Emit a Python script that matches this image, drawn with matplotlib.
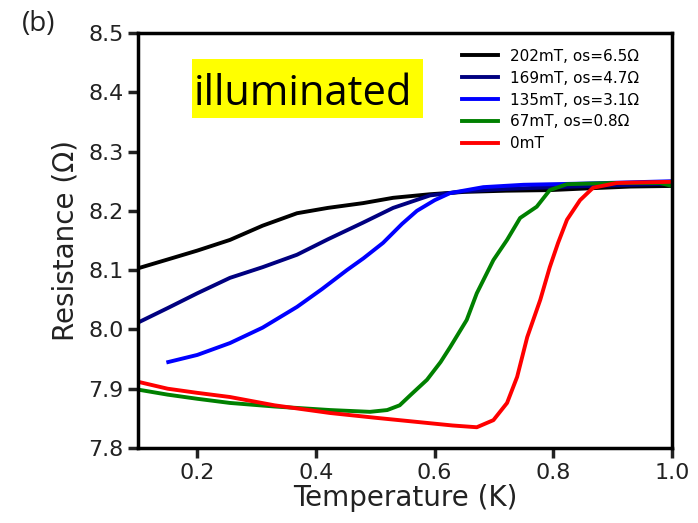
import numpy as np
import matplotlib.pyplot as plt
from matplotlib.patches import Rectangle

# data (T in K, R in Ohm)
t_202 = [0.103, 0.15, 0.2, 0.255, 0.31, 0.368, 0.42, 0.479, 0.53, 0.592, 0.65, 0.72, 0.794, 0.86, 0.93, 1.0]
r_202 = [8.104, 8.118, 8.133, 8.151, 8.175, 8.196, 8.205, 8.213, 8.222, 8.228, 8.232, 8.234, 8.235, 8.238, 8.241, 8.242]

t_169 = [0.103, 0.15, 0.2, 0.255, 0.31, 0.368, 0.42, 0.479, 0.53, 0.592, 0.65, 0.72, 0.8, 0.9, 1.0]
r_169 = [8.013, 8.036, 8.061, 8.087, 8.105, 8.126, 8.152, 8.18, 8.205, 8.226, 8.233, 8.237, 8.24, 8.243, 8.246]

t_135 = [0.151, 0.2, 0.255, 0.31, 0.368, 0.41, 0.452, 0.48, 0.513, 0.545, 0.57, 0.6, 0.626, 0.682, 0.75, 0.85, 1.0]
r_135 = [7.945, 7.957, 7.977, 8.003, 8.038, 8.068, 8.1, 8.12, 8.146, 8.178, 8.2, 8.218, 8.23, 8.24, 8.244, 8.246, 8.25]

t_67 = [0.103, 0.15, 0.2, 0.255, 0.33, 0.424, 0.491, 0.52, 0.541, 0.56, 0.587, 0.61, 0.626, 0.654, 0.671, 0.699, 0.722, 0.744, 0.772, 0.794, 0.823, 0.9, 0.98, 1.0]
r_67 = [7.898, 7.89, 7.883, 7.876, 7.87, 7.864, 7.861, 7.864, 7.872, 7.89, 7.915, 7.945, 7.97, 8.016, 8.061, 8.117, 8.151, 8.188, 8.207, 8.235, 8.245, 8.247, 8.247, 8.242]

t_0 = [0.103, 0.15, 0.2, 0.255, 0.33, 0.424, 0.5, 0.57, 0.63, 0.671, 0.699, 0.722, 0.739, 0.756, 0.778, 0.794, 0.808, 0.823, 0.845, 0.867, 0.907, 0.95, 1.0]
r_0 = [7.911, 7.9, 7.893, 7.886, 7.872, 7.859, 7.851, 7.844, 7.838, 7.835, 7.847, 7.876, 7.92, 7.987, 8.05, 8.105, 8.146, 8.185, 8.218, 8.239, 8.247, 8.248, 8.249]

series = [
    (t_202, r_202, 'black', '202mT, os=6.5Ω'),
    (t_169, r_169, 'navy', '169mT, os=4.7Ω'),
    (t_135, r_135, 'blue', '135mT, os=3.1Ω'),
    (t_67, r_67, 'green', '67mT, os=0.8Ω'),
    (t_0, r_0, 'red', '0mT'),
]

W, H = 698, 523
fig = plt.figure(figsize=(W/100, H/100), dpi=100)
ax = fig.add_axes([138/W, 1 - 448/H, 534/W, 415/H])

for t, r, c, lab in series:
    ax.plot(t, r, color=c, lw=2.8, label=lab)

ax.set_xlim(0.1, 1.0)
ax.set_ylim(7.8, 8.5)
ax.set_xticks([0.2, 0.4, 0.6, 0.8, 1.0])
ax.set_yticks([7.8, 7.9, 8.0, 8.1, 8.2, 8.3, 8.4, 8.5])
for s in ax.spines.values():
    s.set_linewidth(2.5)
ax.tick_params(width=2.5, length=7, labelsize=16, colors='#222222')
ax.set_xlabel('Temperature (K)', fontsize=20, color='#222222', labelpad=1)
ax.set_ylabel('Resistance (Ω)', fontsize=20, color='#222222', labelpad=6)

leg = ax.legend(loc='upper right', frameon=False, fontsize=11, handlelength=2.4,
                labelspacing=0.45, bbox_to_anchor=(0.965, 0.995))

# yellow label box (pasted annotation in the original)
fig.add_artist(Rectangle((192/W, 1 - 118/H), 231/W, 59/H, transform=fig.transFigure,
                         facecolor='#ffff00', edgecolor='none', zorder=5))
fig.text(194/W, 1 - 105/H, 'illuminated', fontsize=30, family='Open Sans',
         va='baseline', ha='left', zorder=6)
fig.text(22/W, 1 - 24/H, '(b)', fontsize=20, family='Open Sans',
         va='center', ha='left', color='#222222')

fig.savefig('out.png', dpi=100)
